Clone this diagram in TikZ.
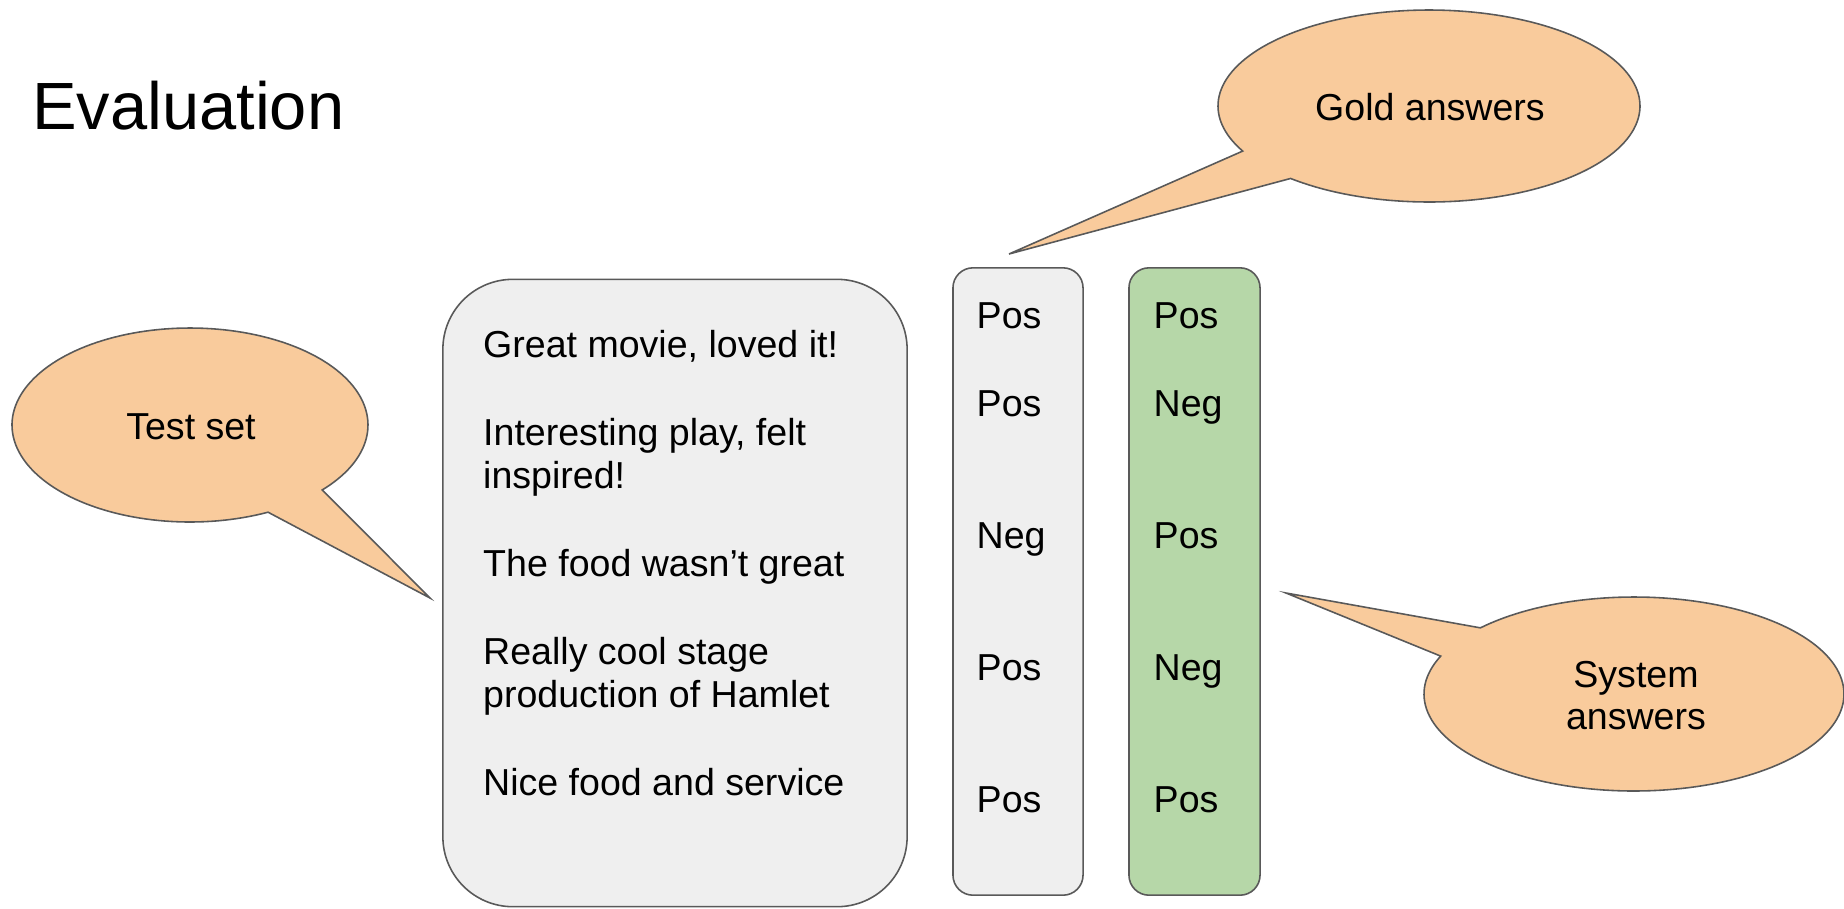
\documentclass[tikz,border=0pt]{standalone}
\usepackage{fontspec}
\setmainfont{Liberation Sans}
\definecolor{bubblefill}{HTML}{F9CB9C}
\definecolor{edgegray}{HTML}{595959}
\definecolor{panelfill}{HTML}{EFEFEF}
\definecolor{sysfill}{HTML}{B6D7A8}
\begin{document}
\begin{tikzpicture}[x=0.01cm, y=-0.01cm,
  outline/.style={draw=edgegray, line width=0.45pt},
  bubble/.style={outline, fill=bubblefill, line join=miter},
  panel/.style={outline, fill=panelfill, inner sep=0pt},
  body/.style={font=\fontsize{10.68}{12.7}\selectfont, inner sep=0pt},
  line/.style={body, anchor=base west},
  label/.style={body, anchor=base},
  heading/.style={font=\fontsize{19.0}{22}\selectfont, inner sep=0pt, anchor=base west}
]
\useasboundingbox (0,0) rectangle (1844,908);

% title
\node[heading] (title) at (31.5,129) {Evaluation};

% test sentences panel
\node[panel, rounded corners=0.7cm, minimum width=4.64cm, minimum height=6.27cm] (tests) at (675,593) {};
\node[line] (s1)  at (482.5,357) {Great movie, loved it!};
\node[line] (s2a) at (482.5,445) {Interesting play, felt};
\node[line] (s2b) at (482.5,488) {inspired!};
\node[line] (s3)  at (482.5,576) {The food wasn’t great};
\node[line] (s4a) at (482.5,664) {Really cool stage};
\node[line] (s4b) at (482.5,707) {production of Hamlet};
\node[line] (s5)  at (482.5,795) {Nice food and service};

% gold label column
\node[panel, rounded corners=0.2cm, minimum width=1.30cm, minimum height=6.27cm] (gold) at (1018,581.5) {};
\node[line] (g1) at (976,328) {Pos};
\node[line] (g2) at (976,416) {Pos};
\node[line] (g3) at (976,548) {Neg};
\node[line] (g4) at (976,680) {Pos};
\node[line] (g5) at (976,812) {Pos};

% system label column
\node[panel, fill=sysfill, rounded corners=0.2cm, minimum width=1.31cm, minimum height=6.27cm] (sys) at (1194.5,581.5) {};
\node[line] (p1) at (1153,328) {Pos};
\node[line] (p2) at (1153,416) {Neg};
\node[line] (p3) at (1153,548) {Pos};
\node[line] (p4) at (1153,680) {Neg};
\node[line] (p5) at (1153,812) {Pos};

% speech bubbles: ellipse outline with a pointed tail
\coordinate (testtip) at (430,598);
\draw[bubble] plot[domain=64:402, samples=160] ({190+178*cos(\x)},{425+97*sin(\x)})
  -- (testtip) -- cycle;
\node[label] (testlbl) at (191,439) {Test set};

\coordinate (goldtip) at (1009,254);
\draw[bubble] plot[domain=152:491, samples=160] ({1429+211*cos(\x)},{106+96*sin(\x)})
  -- (goldtip) -- cycle;
\node[label] (goldlbl) at (1430,120) {Gold answers};

\coordinate (systip) at (1286,593);
\draw[bubble] plot[domain=223:563, samples=160] ({1634+210*cos(\x)},{694+97*sin(\x)})
  -- (systip) -- cycle;
\node[label] (syslbl1) at (1636,687) {System};
\node[label] (syslbl2) at (1636,729) {answers};
\end{tikzpicture}
\end{document}
